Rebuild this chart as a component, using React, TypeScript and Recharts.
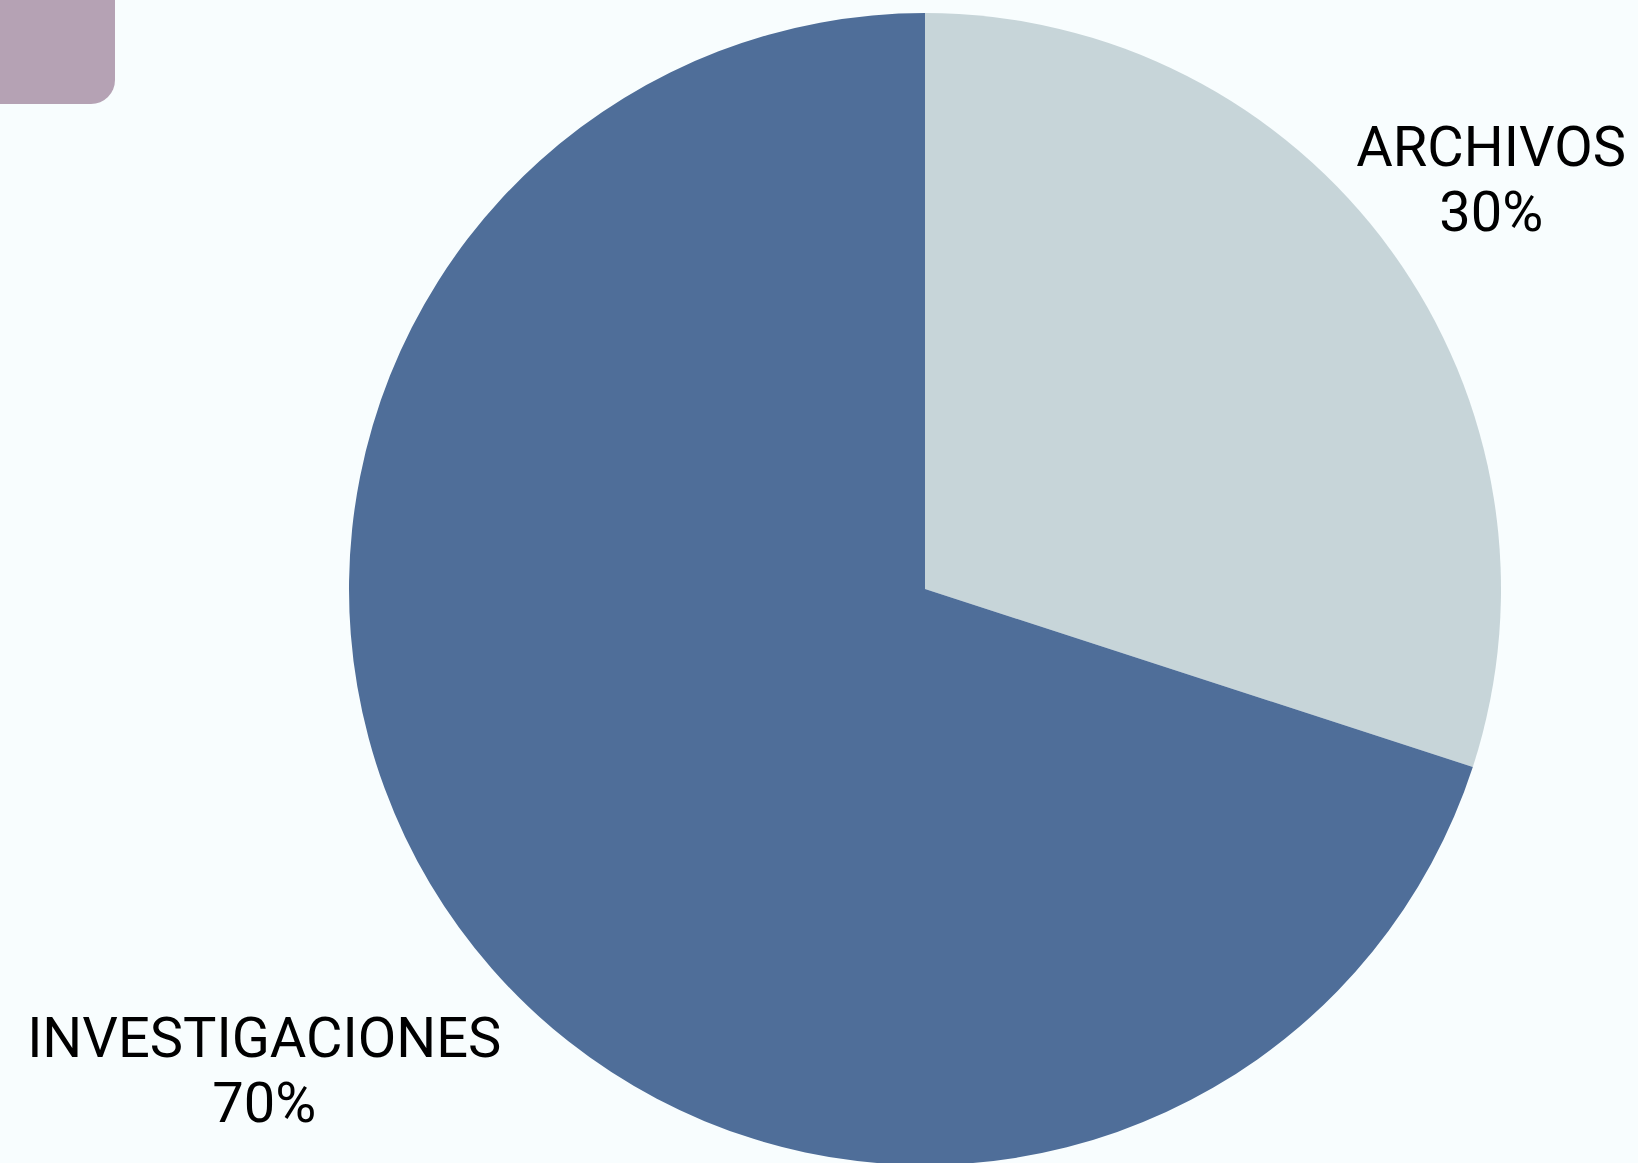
import * as React from "react";
import { PieChart, Pie, Cell } from "recharts";

const categories = ["ARCHIVOS", "INVESTIGACIONES"];
const shares = [30, 70];
const sliceColors = ["#c7d5d9", "#4f6e99"];
// how far out each label sits, as a multiple of the outer radius
const labelReach = [1.215, 1.418];

const data = categories.map((name, i) => ({ name, value: shares[i] }));

const RADIAN = Math.PI / 180;

const SliceLabel = (props: any) => {
  const { cx, cy, midAngle, outerRadius, index, name, value } = props;
  const r = outerRadius * labelReach[index];
  const x = cx + r * Math.cos(-midAngle * RADIAN);
  const y = cy + r * Math.sin(-midAngle * RADIAN);

  return (
    <text
      x={x}
      y={y}
      textAnchor="middle"
      fill="#000"
      fontFamily="Roboto, sans-serif"
      fontSize={56}
    >
      <tspan x={x} dy={-12}>
        {name}
      </tspan>
      <tspan x={x} dy={65}>
        {value}%
      </tspan>
    </text>
  );
};

const App: React.FunctionComponent = () => {
  return (
    <div
      style={{
        position: "absolute",
        top: 0,
        left: 0,
        width: 1638,
        height: 1163,
        background: "#f8fdfe",
        overflow: "hidden",
      }}
    >
      <div
        style={{
          position: "absolute",
          top: -20,
          left: -20,
          width: 135,
          height: 124,
          background: "#b5a2b4",
          borderBottomRightRadius: 24,
        }}
      />
      <PieChart
        width={1638}
        height={1163}
        margin={{ top: 0, right: 0, bottom: 0, left: 0 }}
        style={{ position: "absolute", top: 0, left: 0 }}
      >
        <Pie
          data={data}
          dataKey="value"
          nameKey="name"
          cx={925}
          cy={589}
          outerRadius={576}
          startAngle={90}
          endAngle={-270}
          stroke="none"
          labelLine={false}
          label={<SliceLabel />}
          isAnimationActive={false}
        >
          {data.map((d, i) => (
            <Cell key={d.name} fill={sliceColors[i]} />
          ))}
        </Pie>
      </PieChart>
    </div>
  );
};

export default App;
